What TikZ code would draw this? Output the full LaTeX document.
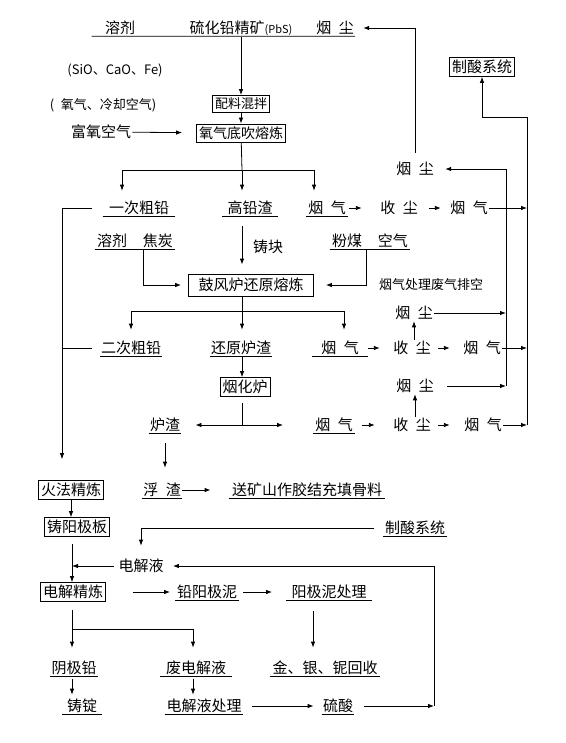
\documentclass[tikz,border=0pt]{standalone}
\usepackage{fontspec}
\setmainfont{Noto Sans CJK SC}
\usetikzlibrary{arrows.meta}

\begin{document}
\begin{tikzpicture}[
        x=1pt, y=-1pt, line width=0.8pt,
        >={Latex[length=6pt,width=4.5pt]},
        stof/.style={inner sep=1pt, font=\fontsize{15}{18}\selectfont},
        ul/.style={stof, minimum width=#1, append after command={(\tikzlastnode.south west) edge (\tikzlastnode.south east)}},
        ul/.default=0pt,
        proces/.style={draw, inner sep=2.5pt, font=\fontsize{15}{18}\selectfont},
        klein/.style={inner sep=1pt, font=\fontsize{13}{15}\selectfont}
    ]
        \useasboundingbox (0,0) rectangle (565,743);

        % grondstoffen
        \node[stof] (rj) at (120,28) {溶剂};
        \node[stof] (pbs) at (241,28) {硫化铅精矿{\fontsize{11}{13}\selectfont(PbS)}};
        \node[stof] (yc0) at (335,28) {烟\enspace 尘};
        \draw ([xshift=-12pt]rj.south west) -- (yc0.south east);
        \node[klein] (sio) at (115,70) {(SiO、CaO、Fe)};
        \node[klein] (oxy) at (103,105) {(\enspace 氧气、冷却空气)};
        \node[proces, font=\fontsize{13}{15}\selectfont] (pl) at (241,104) {配料混拌};
        \node[proces, font=\fontsize{14}{16}\selectfont] (dc) at (241,133) {氧气底吹熔炼};
        \node[stof] (fy) at (101,132) {富氧空气};
        \node[proces] (zs) at (482,67) {制酸系统};

        \draw[->] (pbs) -- (pl);
        \draw[->] (pl) -- (dc);
        \draw[->, shorten >=14pt] (fy) -- (dc);

        % eerste rij
        \node[ul=72pt] (cq1) at (139,208) {一次粗铅};
        \node[ul=55pt] (gqz) at (250,208) {高铅渣};
        \node[ul=41pt] (yq1) at (327,208) {烟\enspace 气};
        \node[stof] (sc1) at (399,208) {收\enspace 尘};
        \node[stof] (yq1b) at (469,208) {烟\enspace 气};
        \node[stof] (yc1) at (415,169) {烟\enspace 尘};

        \coordinate (s1) at (242,170);
        \draw (dc) -- (s1);
        \draw[->, shorten >=9pt] (s1) -| ([xshift=-17pt]cq1.north);
        \draw[->, shorten >=9pt] (s1) -- (s1 |- gqz.north);
        \draw[->, shorten >=9pt] (s1) -| ([xshift=-13pt]yq1.north);
        \draw[->, shorten <=1pt, shorten >=17pt] (yq1) -- (sc1);
        \draw[->, shorten <=10pt, shorten >=8pt] (sc1) -- (yq1b);

        % rookgas en stof
        \coordinate (b1t) at (527,117);
        \coordinate (b1b) at (527,425);
        \coordinate (b2t) at (506,169);
        \coordinate (b2b) at (506,386);
        \draw[->] (b1b) -- (b1t) -| (zs);
        \draw[->] (yq1b) -- (yq1b -| b1t);
        \draw (b2b) -- (b2t);
        \draw[->, shorten >=10pt] (b2t) -- (yc1);
        \draw[->, shorten <=8pt, shorten >=8pt] (yc1.north) |- (yc0);

        % tweede rij
        \node[ul=80pt] (rj2) at (135,241) {溶剂\hspace{16pt}焦炭};
        \node[stof] (zk) at (268,247) {铸块};
        \node[ul=80pt] (fm) at (370,241) {粉煤\hspace{16pt}空气};
        \node[proces, minimum width=125pt, minimum height=22pt] (gf) at (251,285) {鼓风炉还原熔炼};
        \node[klein] (fq) at (431,285) {烟气处理废气排空};

        \draw[->, shorten <=10pt, shorten >=9pt] (s1 |- gqz.south) -- (gf.north -| s1);
        \draw[->, shorten >=7pt] ([xshift=8pt]rj2.south) |- (gf);
        \draw[->, shorten >=12pt] ([xshift=-4pt]fm.south) |- (gf);

        % derde rij
        \node[ul=62pt] (cq2) at (131,348) {二次粗铅};
        \node[ul=61pt] (hy) at (241,348) {还原炉渣};
        \node[ul=56pt] (yq2) at (340,348) {烟\enspace 气};
        \node[stof] (sc2) at (412,348) {收\enspace 尘};
        \node[stof] (yq2b) at (482,348) {烟\enspace 气};
        \node[stof] (yc2) at (414,313) {烟\enspace 尘};

        \coordinate (s2) at (242,311);
        \draw (gf.south -| s2) -- (s2);
        \draw[->, shorten >=10pt] (s2) -| (cq2.north);
        \draw[->, shorten >=10pt] (s2) -- (s2 |- hy.north);
        \draw[->, shorten >=10pt] (s2) -| ([xshift=4pt]yq2.north);
        \draw[->, shorten >=12pt] (yq2) -- (sc2);
        \draw[->, shorten <=6pt, shorten >=12pt] (sc2) -- (yq2b);
        \draw[->] (yq2b) -- (yq2b -| b1t);
        \draw[->] (sc2.north -| yc2) -- (yc2.south);
        \draw[->] (yc2) -- (yc2 -| b2t);

        % verdampingsoven
        \node[proces] (yhl) at (245,387) {烟化炉};
        \draw[->] (hy.south -| s2) -- (yhl.north -| s2);

        \node[ul=30pt] (lz) at (165,425) {炉渣};
        \node[ul=41pt] (yq3) at (334,425) {烟\enspace 气};
        \node[stof] (sc3) at (412,425) {收\enspace 尘};
        \node[stof] (yq3b) at (483,425) {烟\enspace 气};
        \node[stof] (yc3) at (415,386) {烟\enspace 尘};

        \coordinate (s3) at (242,425);
        \draw[shorten <=6pt] (yhl.south -| s3) -- (s3);
        \draw[->, shorten >=14pt] (s3) -- (lz);
        \draw[->, shorten >=30pt] (s3) -- (yq3);
        \draw[->, shorten <=7pt, shorten >=17pt] (yq3) -- (sc3);
        \draw[->, shorten <=6pt, shorten >=13pt] (sc3) -- (yq3b);
        \draw[->] (yq3b) -- (yq3b -| b1t);
        \draw[->] (sc3.north -| yc3) -- (yc3.south);
        \draw[->, shorten <=12pt] (yc3) -- (yc3 -| b2t);

        % ruw lood naar raffinage
        \node[proces] (hf) at (71,490) {火法精炼};
        \node[ul=40pt] (fz) at (162,490) {浮\enspace 渣};
        \node[ul=156pt] (skl) at (307,490) {送矿山作胶结充填骨料};

        \coordinate (lb) at (62,208);
        \draw[->, shorten <=11pt, shorten >=21pt] (cq1.west) -| (hf.north -| lb);
        \draw[shorten <=8pt] (cq2.west) -- (cq2.west -| lb);
        \draw[->, shorten <=10pt, shorten >=14pt] (lz.south) -- (lz.south |- fz.north);
        \draw[->, shorten >=18pt] (fz) -- (skl);

        % elektrolyse
        \node[proces] (zyb) at (77,527) {铸阳极板};
        \node[ul=63pt] (zs2) at (415,528) {制酸系统};
        \node[stof] (djy) at (141,566) {电解液};
        \node[proces] (djjl) at (73,592) {电解精炼};
        \node[ul=63pt] (qyn) at (207,592) {铅阳极泥};
        \node[ul=85pt] (yjn) at (329,592) {阳极泥处理};

        \coordinate (lb2) at (72,566);
        \draw[->] (hf) -- (hf |- zyb.north);
        \draw[->, shorten <=9pt, shorten >=12pt] (zs2.west) -| (djy.north);
        \draw[->, shorten <=7pt] (zyb.south -| lb2) -- (djjl.north -| lb2);
        \draw[->, shorten <=3pt] (djy) -- (lb2);
        \draw[->, shorten <=27pt, shorten >=5pt] (djjl) -- (qyn);
        \draw[->, shorten <=4pt, shorten >=14pt] (qyn) -- (yjn);

        \node[ul=47pt] (yjq) at (74,668) {阴极铅};
        \node[ul=71pt] (fdj) at (196,668) {废电解液};
        \node[ul=110pt] (jyb) at (325,668) {金、银、铌回收};
        \node[ul=39pt] (zd) at (82,706) {铸锭};
        \node[ul=78pt] (djycl) at (204,706) {电解液处理};
        \node[ul=30pt] (ls) at (338,706) {硫酸};

        \coordinate (s4) at (72,629);
        \draw[shorten <=8pt] (djjl.south -| s4) -- (s4);
        \draw[->, shorten >=12pt] (s4) -- (s4 |- yjq.north);
        \draw[->, shorten >=12pt] (s4) -| ([xshift=-3pt]fdj.north);
        \draw[->, shorten <=11pt, shorten >=12pt] ([xshift=-16pt]yjn.south) -- ([xshift=-12pt]jyb.north);
        \draw[->, shorten <=3pt, shorten >=3pt] (yjq.south -| s4) -- (zd.north -| s4);
        \draw[->, shorten <=3pt, shorten >=3pt] ([xshift=-3pt]fdj.south) -- ([xshift=-3pt]fdj.south |- djycl.north);
        \draw[->, shorten <=9pt, shorten >=8pt] (djycl) -- (ls);

        \coordinate (b3t) at (434,566);
        \coordinate (b3b) at (434,706);
        \draw[->, shorten <=10pt] (ls) -- (b3b);
        \draw[->, shorten >=8pt] (b3b) -- (b3t) -- (djy);
    \end{tikzpicture}
\end{document}
